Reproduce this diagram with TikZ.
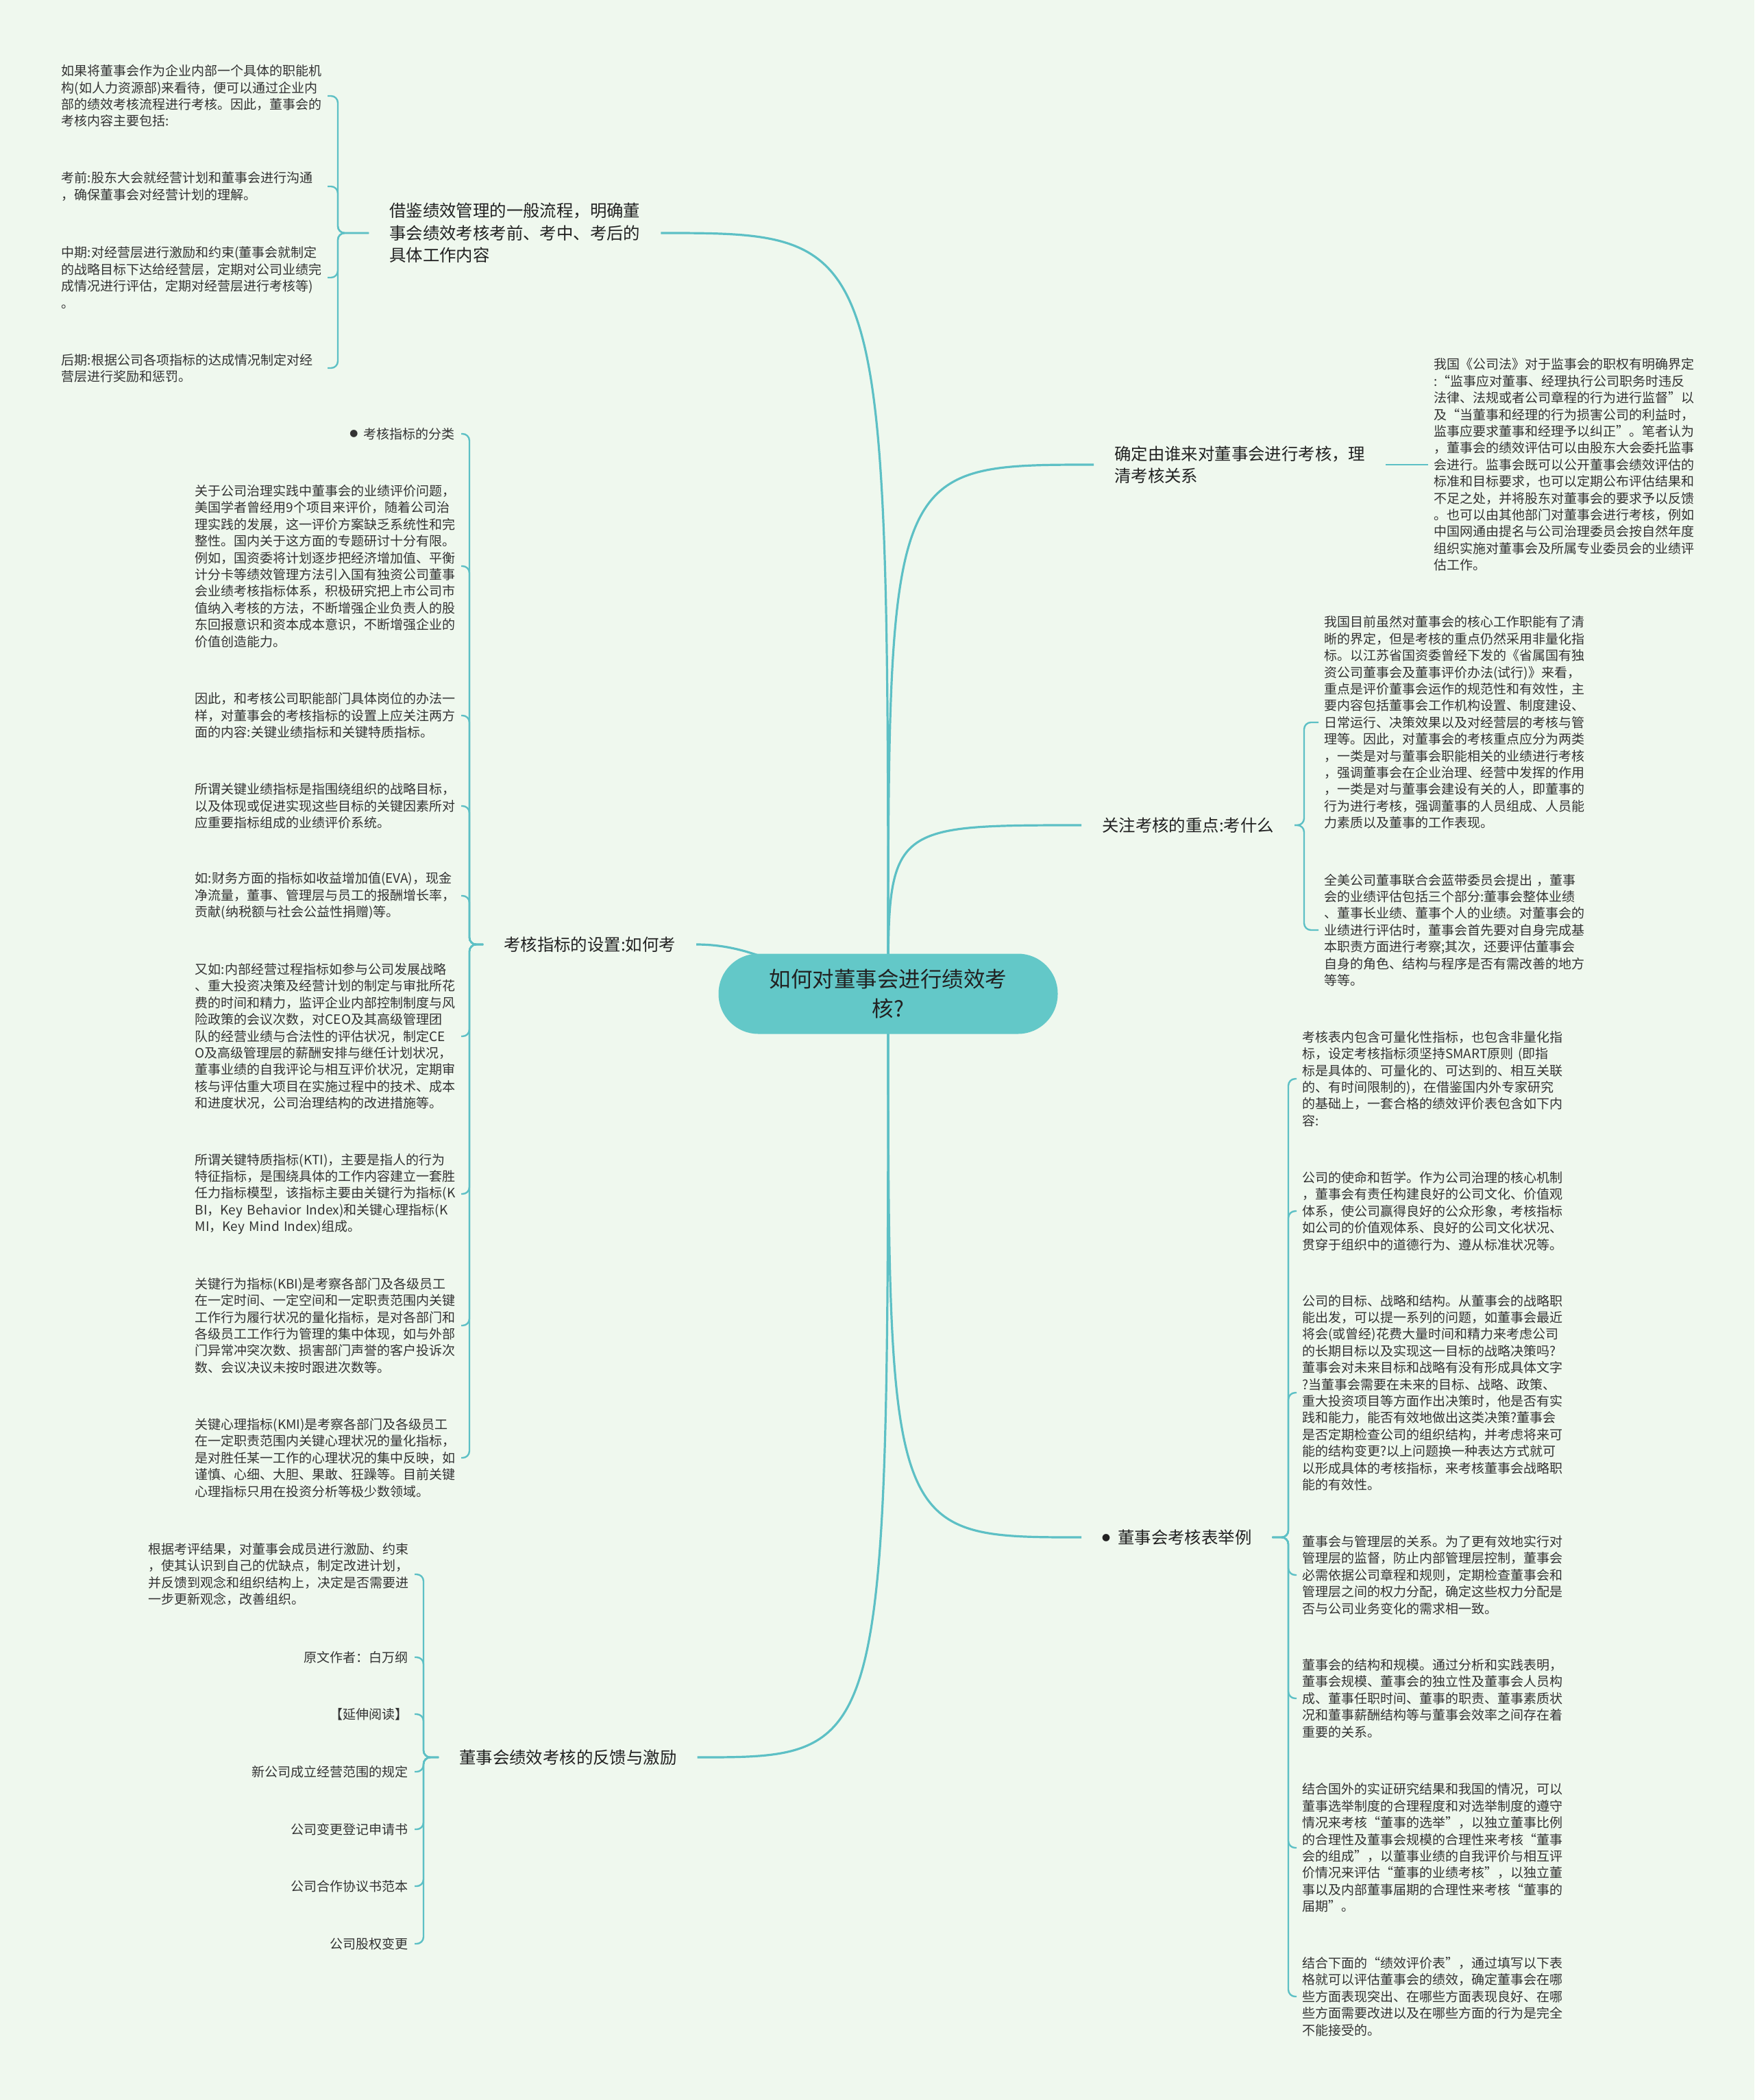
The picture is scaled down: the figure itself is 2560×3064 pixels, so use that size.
\documentclass[tikz,border=0pt]{standalone}
\usepackage{fontspec}
\setmainfont{Noto Sans CJK SC}
\usepackage{xcolor}
\usetikzlibrary{backgrounds}
\definecolor{MapPaper}{HTML}{EFF8EE}
\definecolor{MapTeal}{HTML}{5DC0C5}
\definecolor{MapHub}{HTML}{63C8C8}
\definecolor{MapInk}{HTML}{333333}
\definecolor{MapInkDark}{HTML}{222222}
\newcommand{\dotmark}{\raisebox{0.15em}{\fontsize{12}{12}\selectfont ●}\hspace{0.45em}}
\tikzset{
    hub/.style={
        fill=MapHub,
        rounded corners=58pt,
        minimum width=495pt,
        minimum height=117pt,
        text=MapInkDark,
        font=\fontsize{31.5}{43}\selectfont,
        align=center
    },
    topic/.style={
        anchor=west,
        text=MapInkDark,
        font=\fontsize{24.4}{32.5}\selectfont,
        align=left,
        inner xsep=30pt,
        inner ysep=2pt
    },
    leaf/.style={
        text=MapInk,
        font=\fontsize{19}{24.4}\selectfont,
        align=left,
        text width=388pt,
        inner ysep=2pt
    },
    leafl/.style={leaf, anchor=east, inner xsep=0pt},
    leafr/.style={leaf, anchor=west, inner xsep=8pt},
    tag/.style={
        anchor=east,
        text=MapInk,
        font=\fontsize{19}{24.4}\selectfont,
        inner xsep=9pt,
        inner ysep=2pt
    },
    limb/.style={draw=MapTeal, line width=3.2pt},
    twig/.style={draw=MapTeal, line width=2.4pt, rounded corners=10pt}
}

\begin{document}
\begin{tikzpicture}[x=1pt, y=-1pt]
    \useasboundingbox (0,0) rectangle (2560,3064);

    % Centre
    \node[hub] (hub) at (1296,1450) {如何对董事会进行绩效考\\核?};

    % Main topics
    \node[topic] (flow) at (538,340) {借鉴绩效管理的一般流程，明确董\\事会绩效考核考前、考中、考后的\\具体工作内容};
    \node[topic] (who) at (1596,678) {确定由谁来对董事会进行考核，理\\清考核关系};
    \node[topic] (focus) at (1578,1204) {关注考核的重点:考什么};
    \node[topic] (setup) at (705,1378) {考核指标的设置:如何考};
    \node[topic] (sheet) at (1578,2243) {\dotmark 董事会考核表举例};
    \node[topic] (feedback) at (640,2564) {董事会绩效考核的反馈与激励};

    % Process steps
    \node[leafl] (flow1) at (478,140) {如果将董事会作为企业内部一个具体的职能机\\构(如人力资源部)来看待，便可以通过企业内\\部的绩效考核流程进行考核。因此，董事会的\\考核内容主要包括:};
    \node[leafl] (flow2) at (478,272) {考前:股东大会就经营计划和董事会进行沟通\\，确保董事会对经营计划的理解。};
    \node[leafl] (flow3) at (478,405) {中期:对经营层进行激励和约束(董事会就制定\\的战略目标下达给经营层，定期对公司业绩完\\成情况进行评估，定期对经营层进行考核等)\\。};
    \node[leafl] (flow4) at (478,537) {后期:根据公司各项指标的达成情况制定对经\\营层进行奖励和惩罚。};

    % Who assesses
    \node[leafr] (who1) at (2084,678) {我国《公司法》对于监事会的职权有明确界定\\:“监事应对董事、经理执行公司职务时违反\\法律、法规或者公司章程的行为进行监督”以\\及“当董事和经理的行为损害公司的利益时，\\监事应要求董事和经理予以纠正”。笔者认为\\，董事会的绩效评估可以由股东大会委托监事\\会进行。监事会既可以公开董事会绩效评估的\\标准和目标要求，也可以定期公布评估结果和\\不足之处，并将股东对董事会的要求予以反馈\\。也可以由其他部门对董事会进行考核，例如\\中国网通由提名与公司治理委员会按自然年度\\组织实施对董事会及所属专业委员会的业绩评\\估工作。};

    % Focus of assessment
    \node[leafr] (focus1) at (1924,1054) {我国目前虽然对董事会的核心工作职能有了清\\晰的界定，但是考核的重点仍然采用非量化指\\标。以江苏省国资委曾经下发的《省属国有独\\资公司董事会及董事评价办法(试行)》来看，\\重点是评价董事会运作的规范性和有效性，主\\要内容包括董事会工作机构设置、制度建设、\\日常运行、决策效果以及对经营层的考核与管\\理等。因此，对董事会的考核重点应分为两类\\，一类是对与董事会职能相关的业绩进行考核\\，强调董事会在企业治理、经营中发挥的作用\\，一类是对与董事会建设有关的人，即董事的\\行为进行考核，强调董事的人员组成、人员能\\力素质以及董事的工作表现。};
    \node[leafr] (focus2) at (1924,1357) {全美公司董事联合会蓝带委员会提出 ，董事\\会的业绩评估包括三个部分:董事会整体业绩\\、董事长业绩、董事个人的业绩。对董事会的\\业绩进行评估时，董事会首先要对自身完成基\\本职责方面进行考察;其次，还要评估董事会\\自身的角色、结构与程序是否有需改善的地方\\等等。};

    % Indicator setup
    \node[tag] (setup1) at (673,633) {\dotmark 考核指标的分类};
    \node[leafl] (setup2) at (673,826) {关于公司治理实践中董事会的业绩评价问题，\\美国学者曾经用9个项目来评价，随着公司治\\理实践的发展，这一评价方案缺乏系统性和完\\整性。国内关于这方面的专题研讨十分有限。\\例如，国资委将计划逐步把经济增加值、平衡\\计分卡等绩效管理方法引入国有独资公司董事\\会业绩考核指标体系，积极研究把上市公司市\\值纳入考核的方法，不断增强企业负责人的股\\东回报意识和资本成本意识，不断增强企业的\\价值创造能力。};
    \node[leafl] (setup3) at (673,1044) {因此，和考核公司职能部门具体岗位的办法一\\样，对董事会的考核指标的设置上应关注两方\\面的内容:关键业绩指标和关键特质指标。};
    \node[leafl] (setup4) at (673,1176) {所谓关键业绩指标是指围绕组织的战略目标，\\以及体现或促进实现这些目标的关键因素所对\\应重要指标组成的业绩评价系统。};
    \node[leafl] (setup5) at (673,1307) {如:财务方面的指标如收益增加值(EVA)，现金\\净流量，董事、管理层与员工的报酬增长率，\\贡献(纳税额与社会公益性捐赠)等。};
    \node[leafl] (setup6) at (673,1512) {又如:内部经营过程指标如参与公司发展战略\\、重大投资决策及经营计划的制定与审批所花\\费的时间和精力，监评企业内部控制制度与风\\险政策的会议次数，对CEO及其高级管理团\\队的经营业绩与合法性的评估状况，制定CE\\O及高级管理层的薪酬安排与继任计划状况，\\董事业绩的自我评论与相互评价状况，定期审\\核与评估重大项目在实施过程中的技术、成本\\和进度状况，公司治理结构的改进措施等。};
    \node[leafl] (setup7) at (673,1742) {所谓关键特质指标(KTI)，主要是指人的行为\\特征指标，是围绕具体的工作内容建立一套胜\\任力指标模型，该指标主要由关键行为指标(K\\BI，Key Behavior Index)和关键心理指标(K\\MI，Key Mind Index)组成。};
    \node[leafl] (setup8) at (673,1934) {关键行为指标(KBI)是考察各部门及各级员工\\在一定时间、一定空间和一定职责范围内关键\\工作行为履行状况的量化指标，是对各部门和\\各级员工工作行为管理的集中体现，如与外部\\门异常冲突次数、损害部门声誉的客户投诉次\\数、会议决议未按时跟进次数等。};
    \node[leafl] (setup9) at (673,2127) {关键心理指标(KMI)是考察各部门及各级员工\\在一定职责范围内关键心理状况的量化指标，\\是对胜任某一工作的心理状况的集中反映，如\\谨慎、心细、大胆、果敢、狂躁等。目前关键\\心理指标只用在投资分析等极少数领域。};

    % Assessment sheet
    \node[leafr] (sheet1) at (1892,1574) {考核表内包含可量化性指标，也包含非量化指\\标，设定考核指标须坚持SMART原则 (即指\\标是具体的、可量化的、可达到的、相互关联\\的、有时间限制的)，在借鉴国内外专家研究\\的基础上，一套合格的绩效评价表包含如下内\\容:};
    \node[leafr] (sheet2) at (1892,1767) {公司的使命和哲学。作为公司治理的核心机制\\，董事会有责任构建良好的公司文化、价值观\\体系，使公司赢得良好的公众形象，考核指标\\如公司的价值观体系、良好的公司文化状况、\\贯穿于组织中的道德行为、遵从标准状况等。};
    \node[leafr] (sheet3) at (1892,2032) {公司的目标、战略和结构。从董事会的战略职\\能出发，可以提一系列的问题，如董事会最近\\将会(或曾经)花费大量时间和精力来考虑公司\\的长期目标以及实现这一目标的战略决策吗?\\董事会对未来目标和战略有没有形成具体文字\\?当董事会需要在未来的目标、战略、政策、\\重大投资项目等方面作出决策时，他是否有实\\践和能力，能否有效地做出这类决策?董事会\\是否定期检查公司的组织结构，并考虑将来可\\能的结构变更?以上问题换一种表达方式就可\\以形成具体的考核指标，来考核董事会战略职\\能的有效性。};
    \node[leafr] (sheet4) at (1892,2298) {董事会与管理层的关系。为了更有效地实行对\\管理层的监督，防止内部管理层控制，董事会\\必需依据公司章程和规则，定期检查董事会和\\管理层之间的权力分配，确定这些权力分配是\\否与公司业务变化的需求相一致。};
    \node[leafr] (sheet5) at (1892,2478) {董事会的结构和规模。通过分析和实践表明，\\董事会规模、董事会的独立性及董事会人员构\\成、董事任职时间、董事的职责、董事素质状\\况和董事薪酬结构等与董事会效率之间存在着\\重要的关系。};
    \node[leafr] (sheet6) at (1892,2696) {结合国外的实证研究结果和我国的情况，可以\\董事选举制度的合理程度和对选举制度的遵守\\情况来考核“董事的选举”，以独立董事比例\\的合理性及董事会规模的合理性来考核“董事\\会的组成”，以董事业绩的自我评价与相互评\\价情况来评估“董事的业绩考核”，以独立董\\事以及内部董事届期的合理性来考核“董事的\\届期”。};
    \node[leafr] (sheet7) at (1892,2913) {结合下面的“绩效评价表”，通过填写以下表\\格就可以评估董事会的绩效，确定董事会在哪\\些方面表现突出、在哪些方面表现良好、在哪\\些方面需要改进以及在哪些方面的行为是完全\\不能接受的。};

    % Feedback and incentives
    \node[leafl] (feed1) at (605,2297) {根据考评结果，对董事会成员进行激励、约束\\，使其认识到自己的优缺点，制定改进计划，\\并反馈到观念和组织结构上，决定是否需要进\\一步更新观念，改善组织。};
    \node[tag] (feed2) at (605,2418) {原文作者：白万纲};
    \node[tag] (feed3) at (605,2501) {【延伸阅读】};
    \node[tag] (feed4) at (605,2585) {新公司成立经营范围的规定};
    \node[tag] (feed5) at (605,2669) {公司变更登记申请书};
    \node[tag] (feed6) at (605,2752) {公司合作协议书范本};
    \node[tag] (feed7) at (605,2836) {公司股权变更};

    % Junctions of the brackets
    \coordinate (flowj) at ([xshift=15pt]flow1.east |- flow.west);
    \coordinate (setupj) at ([xshift=12pt]setup2.east |- setup.west);
    \coordinate (feedj) at ([xshift=13pt]feed1.east |- feedback.west);
    \coordinate (focusj) at ([xshift=-21pt]focus1.west |- focus.east);
    \coordinate (sheetj) at ([xshift=-12pt]sheet1.west |- sheet.east);

    \begin{scope}[on background layer]
        \fill[MapPaper] (0,0) rectangle (2560,3064);
        % centre to topics
        \foreach \t in {flow,feedback}
            \draw[limb] (hub.center) .. controls (hub.center |- \t.east) .. (\t.east);
        \foreach \t in {who,focus,sheet}
            \draw[limb] (hub.center) .. controls (hub.center |- \t.west) .. (\t.west);
        \draw[limb] (hub.center) to[out=180,in=0] (setup.east);
        % topics to details
        \foreach \c in {flow1,flow2,flow3,flow4}
            \draw[twig] (flow.west) -- (flowj) |- (\c.east);
        \foreach \c in {setup1,setup2,setup3,setup4,setup5,setup6,setup7,setup8,setup9}
            \draw[twig] (setup.west) -- (setupj) |- (\c.east);
        \foreach \c in {feed1,feed2,feed3,feed4,feed5,feed6,feed7}
            \draw[twig] (feedback.west) -- (feedj) |- (\c.east);
        \draw[twig] (who.east) -- (who1.west);
        \foreach \c in {focus1,focus2}
            \draw[twig] (focus.east) -- (focusj) |- (\c.west);
        \foreach \c in {sheet1,sheet2,sheet3,sheet4,sheet5,sheet6,sheet7}
            \draw[twig] (sheet.east) -- (sheetj) |- (\c.west);
    \end{scope}
\end{tikzpicture}
\end{document}
